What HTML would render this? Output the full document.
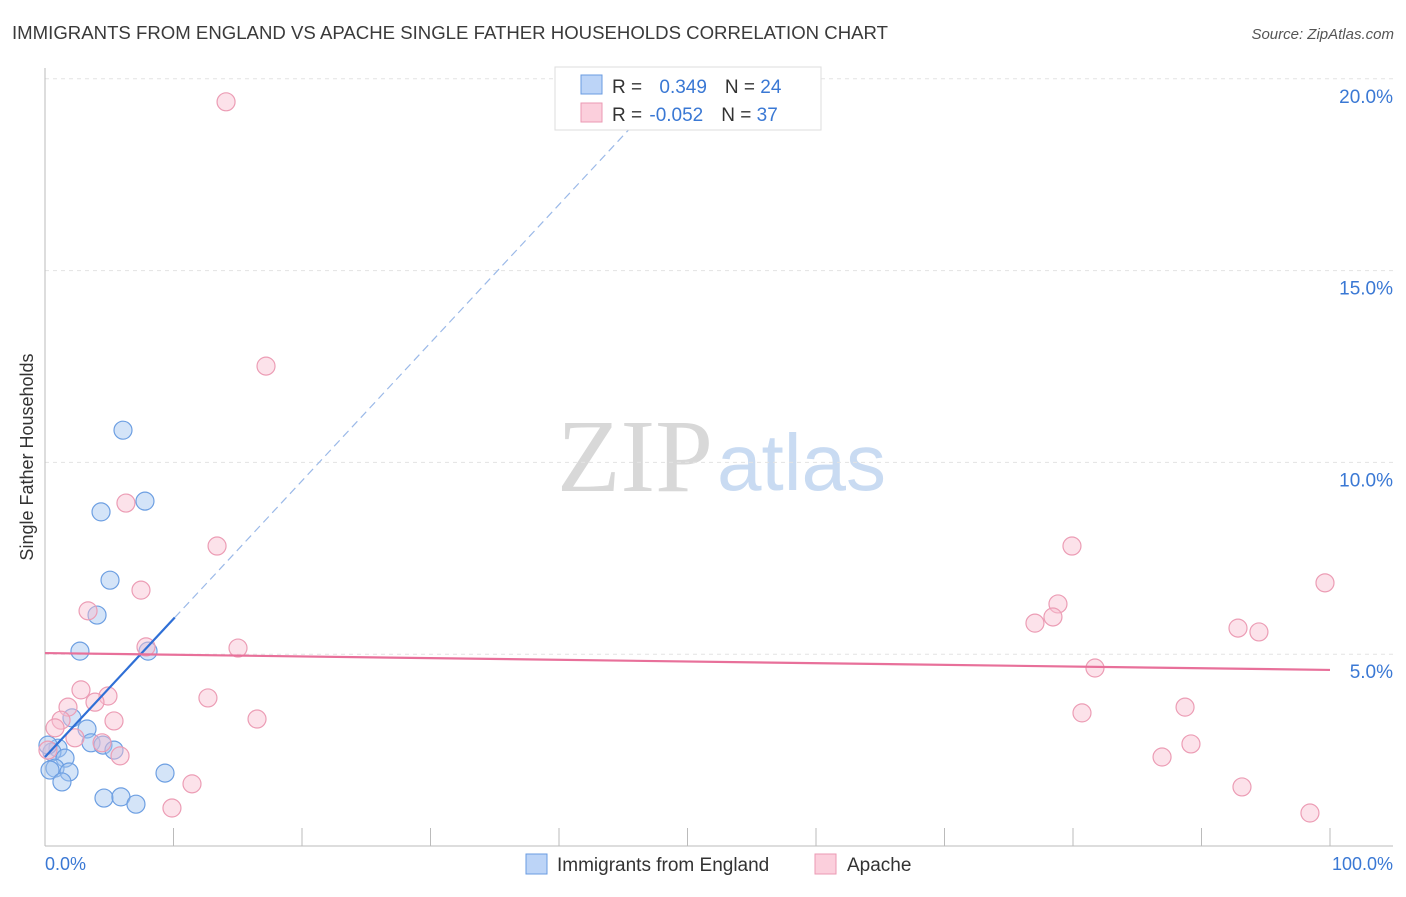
<!DOCTYPE html>
<html><head><meta charset="utf-8"><style>
body{margin:0;background:#fff;font-family:"Liberation Sans",sans-serif;}
</style></head><body>
<svg id="c" width="1406" height="892" xmlns="http://www.w3.org/2000/svg" style="font-family:'Liberation Sans',sans-serif">
<text x="12" y="39" font-size="18.6" fill="#3a3a3a" textLength="876">IMMIGRANTS FROM ENGLAND VS APACHE SINGLE FATHER HOUSEHOLDS CORRELATION CHART</text>
<text x="1394" y="39" font-size="15" fill="#555" font-style="italic" text-anchor="end">Source: ZipAtlas.com</text>
<text x="33" y="457" font-size="18" fill="#333" text-anchor="middle" transform="rotate(-90 33 457)">Single Father Households</text>
<text x="713" y="491" font-size="104" fill="#d8d8d8" text-anchor="end" font-family="Liberation Serif">ZIP</text>
<text x="717" y="490" font-size="80" fill="#c9dbf2">atlas</text>
<g id="grid"></g>
<g id="pts"></g>
<g id="lines"></g>
<g>
<rect x="555" y="67" width="266" height="63" fill="#fff" stroke="#ddd"/>
<rect x="581" y="75" width="21" height="19" fill="#bcd4f7" stroke="#6a9be0"/>
<rect x="581" y="103" width="21" height="19" fill="#fbcfdc" stroke="#eb9ab3"/>
<text x="612" y="93" font-size="19" fill="#333">R = <tspan fill="#3a78d4" dx="12">0.349</tspan><tspan dx="18" fill="#333">N = </tspan><tspan fill="#3a78d4">24</tspan></text>
<text x="612" y="121" font-size="19" fill="#333">R = <tspan fill="#3a78d4" dx="2">-0.052</tspan><tspan dx="18" fill="#333">N = </tspan><tspan fill="#3a78d4">37</tspan></text>
</g>
<g>
<rect x="526" y="854" width="21" height="20" fill="#bcd4f7" stroke="#6a9be0"/>
<text x="557" y="871" font-size="19" fill="#333">Immigrants from England</text>
<rect x="815" y="854" width="21" height="20" fill="#fbcfdc" stroke="#eb9ab3"/>
<text x="847" y="871" font-size="19" fill="#333">Apache</text>
</g>
<text x="45" y="870" font-size="18" fill="#3a78d4">0.0%</text>
<text x="1393" y="870" font-size="18" fill="#3a78d4" text-anchor="end">100.0%</text>
</svg>
<script>
const yTicks=[5,10,15,20];
const blueX=[6.07,4.36,7.78,5.06,4.05,2.72,8.02,2.10,3.27,3.58,4.51,5.37,1.01,0.54,1.56,0.78,0.39,1.87,1.32,9.34,4.59,5.91,7.08,0.23];
const blueY=[10.84,8.71,8.99,6.93,6.02,5.08,5.08,3.34,3.05,2.69,2.63,2.50,2.55,2.45,2.29,2.03,1.98,1.93,1.67,1.90,1.25,1.28,1.09,2.63];
const pinkX=[14.09,17.20,6.30,13.39,7.47,3.35,15.02,7.86,2.80,4.90,3.89,12.68,1.79,1.25,5.37,16.50,0.78,4.44,5.84,11.44,9.88,79.92,78.83,77.04,78.44,81.71,80.70,92.84,94.47,99.61,88.72,89.18,86.93,93.15,98.44,0.23,2.33];
const pinkY=[19.40,12.51,8.94,7.82,6.67,6.13,5.16,5.19,4.07,3.91,3.75,3.86,3.62,3.28,3.26,3.31,3.08,2.69,2.35,1.62,0.99,7.82,6.31,5.81,5.97,4.64,3.47,5.68,5.58,6.86,3.62,2.66,2.32,1.54,0.86,2.5,2.82];
const blueTrend=[2.32,0.36];
const pinkTrend=[5.03,-0.0044];
const NS="http://www.w3.org/2000/svg";
const X=v=>45+v*12.85, Y=v=>846-v*38.36;
function mk(t,a,p){const e=document.createElementNS(NS,t);for(const k in a)e.setAttribute(k,a[k]);p.appendChild(e);return e;}
const g=document.getElementById('grid');
yTicks.forEach(t=>{
 const l=mk('line',{x1:45,x2:1393,y1:Y(t),y2:Y(t),stroke:'#e3e3e3','stroke-dasharray':'4,4'},g);
 
 
 const tx=mk('text',{x:1393,y:Y(t)+24,'font-size':19,fill:'#3a78d4','text-anchor':'end'},g);
 tx.textContent=t.toFixed(1)+'%';
 
 
});
mk('line',{x1:45,x2:45,y1:68,y2:846,stroke:'#bbb'},g);
mk('line',{x1:45,x2:1393,y1:846,y2:846,stroke:'#bbb'},g);
for(let i=1;i<=10;i++){mk('line',{x1:X(i*10),x2:X(i*10),y1:828,y2:846,stroke:'#bbb'},g);}
const p=document.getElementById('pts');
blueX.forEach((x,i)=>{const c=mk('circle',{cx:X(x),cy:Y(blueY[i]),r:9,fill:'rgba(160,195,240,0.45)',stroke:'#6d9fe2','stroke-width':1.2},p);
 
 });
pinkX.forEach((x,i)=>{const c=mk('circle',{cx:X(x),cy:Y(pinkY[i]),r:9,fill:'rgba(248,190,208,0.45)',stroke:'#ec9db5','stroke-width':1.2},p);
 
 });
const L=document.getElementById('lines');
const bf=x=>blueTrend[0]+blueTrend[1]*x, pf=x=>pinkTrend[0]+pinkTrend[1]*x;
const xs=10.1, xe=(19.6-blueTrend[0])/blueTrend[1];
const bl=mk('line',{x1:X(0),y1:Y(bf(0)),x2:X(xs),y2:Y(bf(xs)),stroke:'#2f6fd6','stroke-width':2.2},L);


const bd=mk('line',{x1:X(xs),y1:Y(bf(xs)),x2:X(xe),y2:Y(bf(xe)),stroke:'#9bb9e8','stroke-width':1.2,'stroke-dasharray':'8,5'},L);


const pl=mk('line',{x1:X(0),y1:Y(pf(0)),x2:X(100),y2:Y(pf(100)),stroke:'#e8709a','stroke-width':2.2},L);


</script>
</body></html>
